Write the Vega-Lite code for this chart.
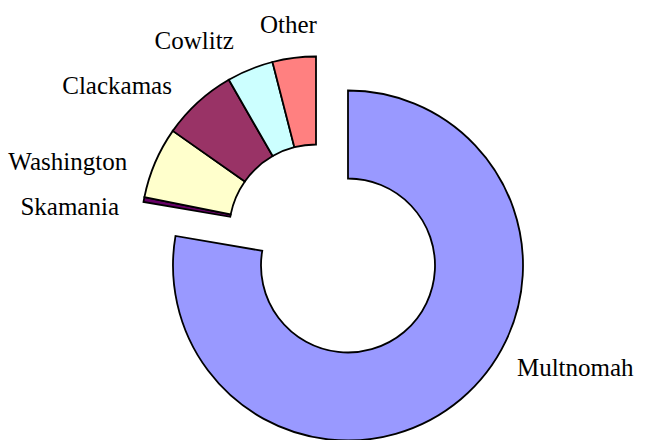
{
  "$schema": "https://vega.github.io/schema/vega-lite/v6.json",
  "width": 649,
  "height": 440,
  "autosize": {"type": "fit", "contains": "padding"},
  "padding": {"left": 0, "top": 16, "right": 17, "bottom": 0},
  "background": "white",
  "view": {"stroke": null},
  "data": {
    "values": [
      {"county": "Multnomah", "value": 77.7, "order": 1},
      {"county": "Skamania", "value": 0.45, "order": 2},
      {"county": "Washington", "value": 6.6, "order": 3},
      {"county": "Clackamas", "value": 6.95, "order": 4},
      {"county": "Cowlitz", "value": 4.3, "order": 5},
      {"county": "Other", "value": 4.0, "order": 6}
    ]
  },
  "encoding": {
    "theta": {"field": "value", "type": "quantitative", "stack": true},
    "order": {"field": "order", "type": "quantitative"}
  },
  "layer": [
    {
      "mark": {"type": "arc", "innerRadius": 87, "outerRadius": 175, "stroke": "black", "strokeWidth": 1.8},
      "encoding": {
        "color": {
          "field": "county", "type": "nominal", "legend": null,
          "scale": {
            "domain": ["Multnomah", "Skamania", "Washington", "Clackamas", "Cowlitz", "Other"],
            "range": ["#9999FF", "#660066", "#FFFFCC", "#993366", "#CCFFFF", "#FF8080"]
          }
        },
        "opacity": {"condition": {"test": "datum.county === 'Multnomah'", "value": 0}, "value": 1}
      }
    },
    {
      "mark": {"type": "arc", "innerRadius": 87, "outerRadius": 175, "stroke": "black", "strokeWidth": 1.8, "xOffset": 32, "yOffset": 34},
      "encoding": {
        "color": {"field": "county", "type": "nominal", "legend": null},
        "opacity": {"condition": {"test": "datum.county === 'Multnomah'", "value": 1}, "value": 0}
      }
    },
    {
      "mark": {
        "type": "text", "font": "Liberation Serif", "fontSize": 25, "color": "black",
        "baseline": "top",
        "radius": {"expr": "196 + 24 * abs(cos((datum.value_start + datum.value_end) * PI / 100))"},
        "align": {"expr": "(datum.value_start + datum.value_end) * 1.8 > 345 ? 'center' : 'right'"}
      },
      "encoding": {
        "text": {"condition": {"test": "datum.county !== 'Multnomah'", "field": "county", "type": "nominal"}, "value": ""}
      }
    },
    {
      "mark": {
        "type": "text", "radius": 200, "font": "Liberation Serif", "fontSize": 25, "color": "black",
        "baseline": "top", "align": "left", "dx": 40, "dy": -62, "xOffset": 32, "yOffset": 34
      },
      "encoding": {
        "text": {"condition": {"test": "datum.county === 'Multnomah'", "field": "county", "type": "nominal"}, "value": ""}
      }
    }
  ]
}
